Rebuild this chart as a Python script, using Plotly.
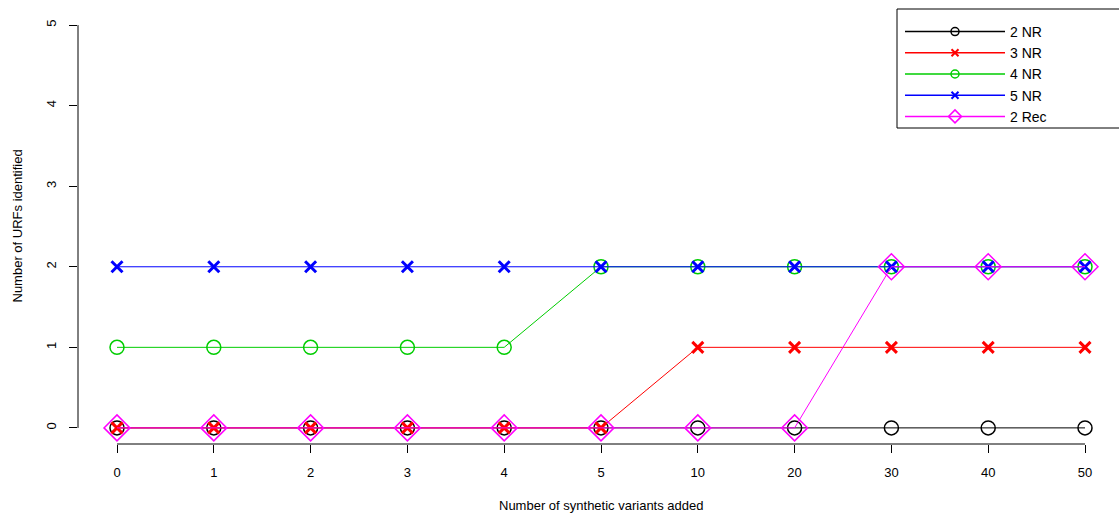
import plotly.graph_objects as go

categories = ["0", "1", "2", "3", "4", "5", "10", "20", "30", "40", "50"]
nr2 = [0, 0, 0, 0, 0, 0, 0, 0, 0, 0, 0]
nr3 = [0, 0, 0, 0, 0, 0, 1, 1, 1, 1, 1]
nr4 = [1, 1, 1, 1, 1, 2, 2, 2, 2, 2, 2]
nr5 = [2, 2, 2, 2, 2, 2, 2, 2, 2, 2, 2]
rec2 = [0, 0, 0, 0, 0, 0, 0, 0, 2, 2, 2]
y_ticks = [0, 1, 2, 3, 4, 5]

xs = list(range(len(categories)))

# name, values, colour, symbol, plot size, plot line width, legend size, legend line width
series = [
    ("2 NR", nr2, "black", "circle-open", 14, 1.5, 8, 1.5),
    ("3 NR", nr3, "#FF0000", "x-thin-open", 11, 3, 7, 2),
    ("4 NR", nr4, "#00CD00", "circle-open", 14, 1.5, 8, 1.5),
    ("5 NR", nr5, "#0000FF", "x-thin-open", 11, 3, 7, 2),
    ("2 Rec", rec2, "#FF00FF", "diamond-open", 20, 1.5, 10, 1.5),
]

FONT = "Liberation Sans, Arial, sans-serif"

W, H = 1130, 516
L, R, T, B = 78, 1130, 9, 444   # plot area in pixels
PW, PH = R - L, B - T

def px(x):
    return (x - L) / PW

def py(y):
    return (B - y) / PH

fig = go.Figure()
for name, vals, color, sym, size, lw, lsize, llw in series:
    fig.add_trace(go.Scatter(
        x=xs, y=vals, name=name, mode="lines+markers", legendgroup=name, showlegend=False,
        line=dict(color=color, width=1),
        marker=dict(symbol=sym, size=size, color=color, line=dict(color=color, width=lw)),
    ))
for name, vals, color, sym, size, lw, lsize, llw in series:
    # legend proxy (no data drawn)
    fig.add_trace(go.Scatter(
        x=[None], y=[None], name=name, mode="lines+markers", legendgroup=name, showlegend=True,
        line=dict(color=color, width=1.5),
        marker=dict(symbol=sym, size=lsize, color=color, line=dict(color=color, width=llw)),
    ))

fig.update_layout(
    width=W, height=H,
    margin=dict(l=L, r=W - R, t=T, b=H - B),
    paper_bgcolor="white", plot_bgcolor="white",
    font=dict(family=FONT, size=13, color="black"),
    showlegend=True,
    legend=dict(
        x=px(900), y=py(16), xanchor="left", yanchor="top",
        borderwidth=0, bgcolor="rgba(0,0,0,0)",
        font=dict(family=FONT, size=14),
        itemwidth=100, tracegroupgap=0,
    ),
    xaxis=dict(
        range=[-(117 - L) / 96.8, (R - 117) / 96.8], tickmode="array", tickvals=xs, ticktext=categories,
        showgrid=False, zeroline=False, showline=False,
        ticks="outside", ticklen=8, tickcolor="black", ticklabelstandoff=8,
    ),
    yaxis=dict(
        range=[-0.2, 5.2], tickmode="array", tickvals=y_ticks,
        ticktext=[str(v) for v in y_ticks],
        showgrid=False, zeroline=False, showline=False,
        ticks="outside", ticklen=8, tickcolor="black", tickangle=-90,
        ticklabelstandoff=8,
    ),
    shapes=[
        dict(type="line", xref="x", yref="paper", x0=xs[0], x1=xs[-1], y0=0, y1=0,
             line=dict(color="black", width=1)),
        dict(type="line", xref="paper", yref="y", x0=0, x1=0, y0=y_ticks[0], y1=y_ticks[-1],
             line=dict(color="black", width=1)),
        dict(type="rect", xref="paper", yref="paper", x0=px(897), x1=px(1125),
             y0=py(128), y1=py(9), line=dict(color="black", width=1), fillcolor="rgba(0,0,0,0)"),
    ],
    annotations=[
        dict(text="Number of synthetic variants added", xref="paper", yref="paper",
             x=0.5 * (px(117) + px(1085)), y=0, yshift=-61, showarrow=False,
             xanchor="center", yanchor="middle", font=dict(family=FONT, size=13)),
        dict(text="Number of URFs identified", xref="paper", yref="paper",
             x=0, y=0.5 * (py(428) + py(25)), xshift=-61, showarrow=False, textangle=-90,
             xanchor="center", yanchor="middle", font=dict(family=FONT, size=13)),
    ],
)

post = ("document.body.style.margin='0';document.body.style.overflow='hidden';"
        "document.documentElement.style.overflow='hidden';")
fig.write_html("out.html", post_script=post, config={"displayModeBar": False})
